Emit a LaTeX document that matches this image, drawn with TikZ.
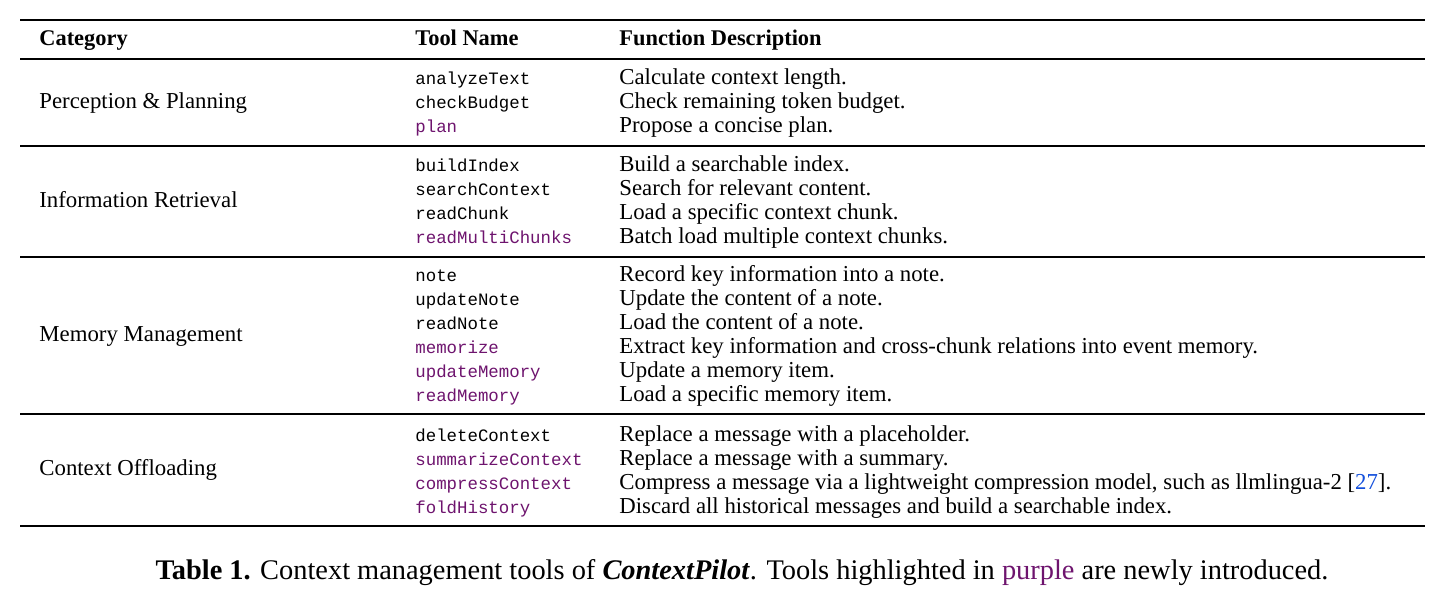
\documentclass[tikz,border=0pt]{standalone}
\usepackage{fontspec}
\setmainfont{Liberation Serif}
\setmonofont{Liberation Mono}
\definecolor{purp}{RGB}{110,20,110}
\definecolor{citeblue}{RGB}{20,80,220}
\begin{document}
\begin{tikzpicture}[x=0.5pt,y=-0.5pt,
  txt/.style={anchor=base west,inner sep=0pt,font=\fontsize{11.4}{13}\selectfont},
  hd/.style={txt,font=\fontsize{11.2}{13}\selectfont\bfseries},
  tl/.style={anchor=base west,inner sep=0pt,font=\fontsize{8.7}{12}\ttfamily},
  nt/.style={tl,purp},
  thick rule/.style={line width=1.2pt},
  thin rule/.style={line width=0.6pt}]
\useasboundingbox (0,0) rectangle (1445,603);
\coordinate (tl) at (20,20); \coordinate (tr) at (1425,20);
\draw[thick rule] (tl) -- (tr);
\node[hd] (h1) at (39,46) {Category};
\node[hd] (h2) at (415,46) {Tool Name};
\node[hd] (h3) at (619,46) {Function Description};
\foreach \y/\n in {59/a,146/b,257/c,414/d}{
  \coordinate (l\n) at (20,\y); \coordinate (r\n) at (1425,\y);
  \draw[thin rule] (l\n) -- (r\n);}
\coordinate (bl) at (20,526); \coordinate (br) at (1425,526);
\draw[thick rule] (bl) -- (br);
% categories
\node[txt] (c1) at (39,109) {Perception \& Planning};
\node[txt] (c2) at (39,208) {Information Retrieval};
\node[txt] (c3) at (39,342) {Memory Management};
\node[txt] (c4) at (39,476) {Context Offloading};
% rows
\foreach \y/\s/\t/\d [count=\i] in {
 85/tl/analyzeText/{Calculate context length.},
 109/tl/checkBudget/{Check remaining token budget.},
 133/nt/plan/{Propose a concise plan.},
 172/tl/buildIndex/{Build a searchable index.},
 196/tl/searchContext/{Search for relevant content.},
 220/tl/readChunk/{Load a specific context chunk.},
 244/nt/readMultiChunks/{Batch load multiple context chunks.},
 282/tl/note/{Record key information into a note.},
 306/tl/updateNote/{Update the content of a note.},
 330/tl/readNote/{Load the content of a note.},
 354/nt/memorize/{Extract key information and cross-chunk relations into event memory.},
 378/nt/updateMemory/{Update a memory item.},
 402/nt/readMemory/{Load a specific memory item.},
 442/tl/deleteContext/{Replace a message with a placeholder.},
 466/nt/summarizeContext/{Replace a message with a summary.},
 490/nt/compressContext/{Compress a message via a lightweight compression model, such as llmlingua-2 [{\color{citeblue}27}].},
 514/nt/foldHistory/{Discard all historical messages and build a searchable index.}}{
  \node[\s] (t\i) at (415,\y) {\t};
  \node[txt] (d\i) at (619,\y) {\d};
}
\node[anchor=base,inner sep=0pt,font=\fontsize{14.2}{16}\selectfont] (cap) at (742,580)
 {\textbf{Table 1.} Context management tools of \textbf{\textit{ContextPilot}}. Tools highlighted in {\color{purp}purple} are newly introduced.};
\end{tikzpicture}
\end{document}
